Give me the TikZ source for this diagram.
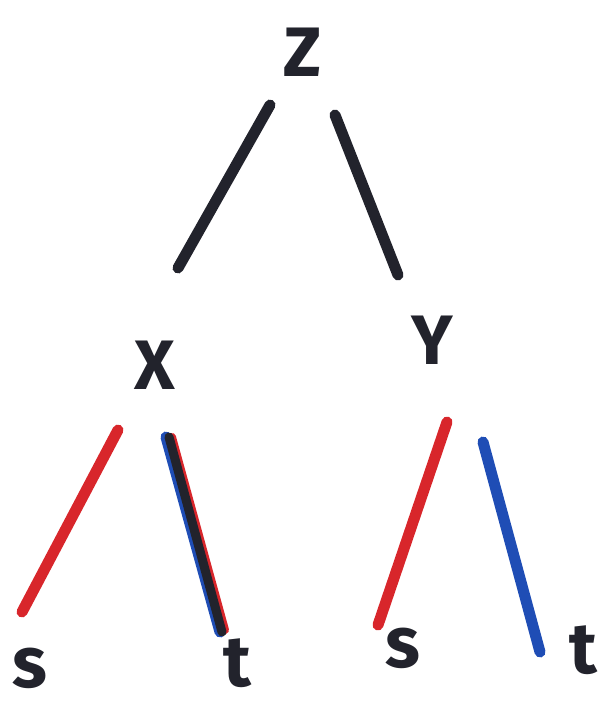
\documentclass[tikz,border=0pt]{standalone}
\usepackage{fontspec}
\setmainfont{Fira Sans}
\definecolor{ink}{HTML}{22232C}
\definecolor{inkred}{HTML}{D8262B}
\definecolor{inkblue}{HTML}{1F4DB5}
\begin{document}
\begin{tikzpicture}[x=1pt,y=-1pt,
  lbl/.style={inner sep=0pt,text=ink,font=\fontsize{70}{70}\selectfont\bfseries},
  lowlbl/.style={inner sep=0pt,text=ink,font=\fontsize{72}{72}\selectfont\bfseries},
  stroke/.style={line width=11pt,line cap=round}]
\useasboundingbox (0,0) rectangle (603,708);
\node[lbl] (Z) at (303,52) {Z};
\node[lbl] (X) at (155,365) {X};
\node[lbl] (Y) at (432,340) {Y};
\node[lowlbl] (s1) at (30,668) {s};
\node[lowlbl] (t1) at (237,663) {t};
\node[lowlbl] (s2) at (403,648) {s};
\node[lowlbl] (t2) at (583,650) {t};
% Z edges
\draw[stroke,ink] ([shift={(-33,53)}]Z.center) -- ([shift={(23,-97)}]X.center);
\draw[stroke,ink] ([shift={(32,63)}]Z.center) -- ([shift={(-34,-65)}]Y.center);
% X edges
\draw[stroke,inkred] ([shift={(-37,65)}]X.center) -- ([shift={(-8,-56)}]s1.center);
\draw[stroke,inkblue] ([shift={(11,72)}]X.center) -- ([shift={(-17,-31)}]t1.center);
\draw[stroke,inkred,line width=8pt] ([shift={(17,72)}]X.center) -- ([shift={(-12,-33)}]t1.center);
\draw[stroke,ink,line width=9pt] ([shift={(14,72)}]X.center) -- ([shift={(-15,-31)}]t1.center);
% Y edges
\draw[stroke,inkred] ([shift={(15,82)}]Y.center) -- ([shift={(-25,-23)}]s2.center);
\draw[stroke,inkblue] ([shift={(51,102)}]Y.center) -- ([shift={(-43,2)}]t2.center);
\end{tikzpicture}
\end{document}
